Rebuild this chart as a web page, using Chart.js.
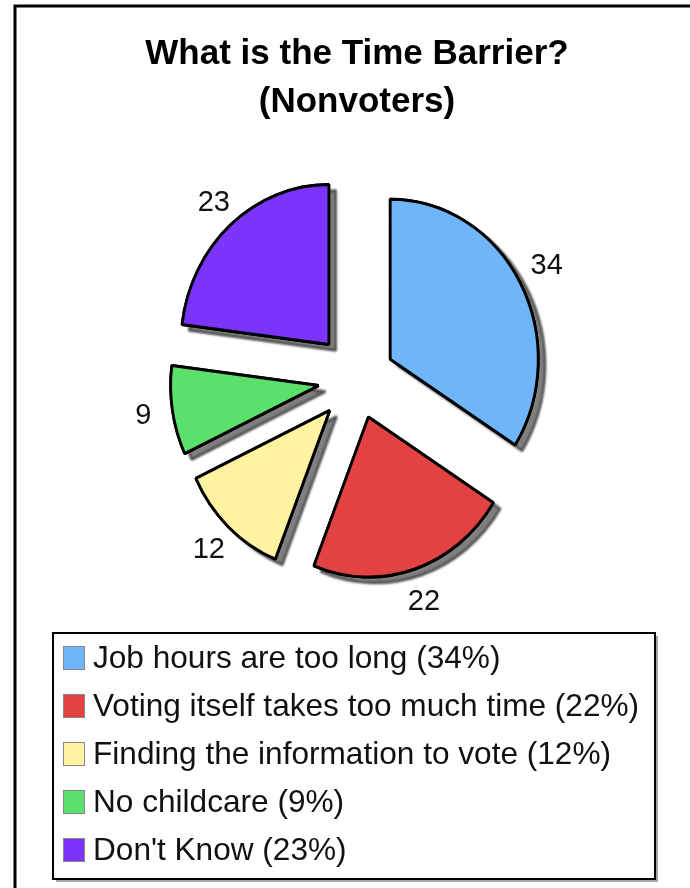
<!DOCTYPE html>
<html>
<head>
<meta charset="utf-8">
<script src="https://cdn.jsdelivr.net/npm/chart.js@4"></script>
<style>
  html, body { margin: 0; padding: 0; background: #fff; }
  #wrap { width: 690px; height: 888px; }
</style>
</head>
<body>
<div id="wrap"><canvas id="time_pie" width="690" height="888"></canvas></div>
<script>
// CHART DATA
const titleLines = ["What is the Time Barrier?", "(Nonvoters)"];
const categories = [
	"Job hours are too long",
	"Voting itself takes too much time",
	"Finding the information to vote",
	"No childcare",
	"Don't Know"
];
const percents = [34, 22, 12, 9, 23];

// COLORS
const slice_colors = ["#6eb6f9", "#e44242", "#fdf3a0", "#5ae06b", "#7b34f9"];

const FONT = "'Liberation Sans', Arial, Helvetica, sans-serif";
const SQUEEZE_X = 0.925; // pie in the picture is a bit narrower than tall

// exploded pie with drop shadow, value labels, frame and boxed legend
const decorPlugin = {
	id: "decor",
	beforeDraw(chart){
		const ctx = chart.ctx;
		ctx.save();
		ctx.fillStyle = "#fff";
		ctx.fillRect(0, 0, chart.width, chart.height);
		ctx.strokeStyle = "#000";
		ctx.lineWidth = 3;
		ctx.beginPath();
		ctx.moveTo(15, chart.height);
		ctx.lineTo(15, 6);
		ctx.lineTo(chart.width, 6);
		ctx.stroke();
		ctx.restore();
	},
	beforeDatasetsDraw(chart, args, opts){
		const ctx = chart.ctx;
		const meta = chart.getDatasetMeta(0);
		const cx = (chart.chartArea.left + chart.chartArea.right) / 2;

		const drawArc = (arc, i, shadow) => {
			const p = arc.getProps(["startAngle", "endAngle"], true);
			const mid = (p.startAngle + p.endAngle) / 2;
			const d = opts.explode[i] || 0;
			ctx.save();
			ctx.translate(cx, 0);
			ctx.scale(SQUEEZE_X, 1);
			ctx.translate(-cx, 0);
			ctx.translate(Math.cos(mid) * d, Math.sin(mid) * d);
			if(shadow){
				ctx.shadowColor = "rgba(0,0,0,0.5)";
				ctx.shadowOffsetX = 7;
				ctx.shadowOffsetY = 6;
				ctx.shadowBlur = 2;
			}
			arc.draw(ctx);
			ctx.restore();
		};
		meta.data.forEach((arc, i) => drawArc(arc, i, true));
		meta.data.forEach((arc, i) => drawArc(arc, i, false));

		// value labels outside each slice
		ctx.save();
		ctx.fillStyle = "#111";
		ctx.font = "29px " + FONT;
		ctx.textAlign = "center";
		ctx.textBaseline = "middle";
		meta.data.forEach((arc, i) => {
			const p = arc.getProps(["x", "y", "startAngle", "endAngle", "outerRadius"], true);
			const mid = (p.startAngle + p.endAngle) / 2;
			const r = p.outerRadius + 74;
			ctx.fillText(String(percents[i]), p.x + Math.cos(mid) * r * SQUEEZE_X, p.y + Math.sin(mid) * r);
		});
		ctx.restore();
		return false;
	},
	afterDraw(chart){
		const ctx = chart.ctx;
		const box = {left: 53, top: 633, right: 655, bottom: 879};
		ctx.save();
		ctx.fillStyle = "rgba(0,0,0,0.35)";
		ctx.fillRect(box.left + 3, box.top + 3, box.right - box.left, box.bottom - box.top);
		ctx.fillStyle = "#fff";
		ctx.fillRect(box.left, box.top, box.right - box.left, box.bottom - box.top);
		ctx.strokeStyle = "#000";
		ctx.lineWidth = 2;
		ctx.strokeRect(box.left, box.top, box.right - box.left, box.bottom - box.top);

		ctx.font = "31.6px " + FONT;
		ctx.textAlign = "left";
		ctx.textBaseline = "middle";
		categories.forEach((cat, i) => {
			const yc = 658 + i * 48;
			ctx.fillStyle = slice_colors[i];
			ctx.fillRect(63, yc - 12, 22, 24);
			ctx.strokeStyle = "#888";
			ctx.lineWidth = 1;
			ctx.strokeRect(63.5, yc - 11.5, 21, 23);
			ctx.fillStyle = "#111";
			ctx.fillText(`${cat} (${percents[i]}%)`, 93, yc + 1);
		});
		ctx.restore();
	}
};

const ctx = document.getElementById("time_pie").getContext("2d");

let my_chart = new Chart(ctx, {
	type: "pie",
	data: {
		labels: categories,
		datasets: [{
			data: percents,
			backgroundColor: slice_colors,
			borderColor: "#000",
			borderWidth: 3,
			offset: 0,
			hoverOffset: 0,
			radius: 160
		}]
	},
	options: {
		responsive: false,
		animation: false,
		devicePixelRatio: 1,
		layout: {
			padding: {left: 24, right: 0, top: 0, bottom: 260}
		},
		plugins: {
			title: {
				display: true,
				text: titleLines,
				color: "#000",
				font: {family: FONT, size: 35, weight: "bold", lineHeight: "48px"},
				padding: {top: 30, bottom: 4}
			},
			legend: {display: false},
			tooltip: {enabled: false},
			decor: {explode: [41, 40, 43, 42, 46]}
		}
	},
	plugins: [decorPlugin]
});
</script>
</body>
</html>
